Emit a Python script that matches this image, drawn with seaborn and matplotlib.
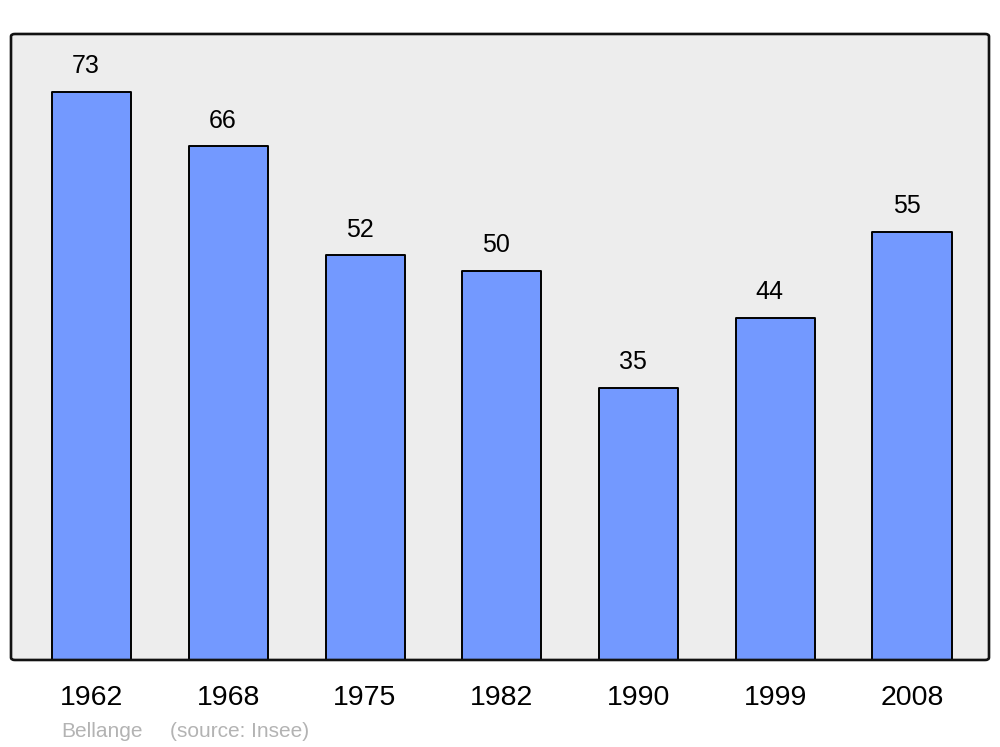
import matplotlib
matplotlib.use("Agg")
import matplotlib.pyplot as plt
import seaborn as sns
import pandas as pd
from matplotlib.patches import FancyBboxPatch

years = ["1962", "1968", "1975", "1982", "1990", "1999", "2008"]
population = [73, 66, 52, 50, 35, 44, 55]
source_name = "Bellange"
source_note = "(source: Insee)"

sns.set_theme(style="white")
plt.rcParams['font.family'] = ['Liberation Sans', 'DejaVu Sans']

df = pd.DataFrame({"year": years, "pop": population})

fig = plt.figure(figsize=(10, 7.47), dpi=100)
ax = fig.add_axes([0.011, 0.1165, 0.978, 0.838])
ax.set_facecolor("#EDEDED")

sns.barplot(data=df, x="year", y="pop", color="#7399FF", width=0.578,
            saturation=1, edgecolor="black", linewidth=1.4, ax=ax)
for p in ax.patches:
    p.set_joinstyle("round")

ax.set_xlim(-0.589, 6.563)
ax.set_ylim(0, 80.46)
ax.set_xlabel("")
ax.set_ylabel("")
ax.set_yticks([])
ax.tick_params(axis="x", length=0, pad=18, labelsize=20.5, labelcolor="black")
for s in ax.spines.values():
    s.set_visible(False)

frame = FancyBboxPatch((0, 0), 1, 1, boxstyle="round,pad=0,rounding_size=0.004",
                       transform=ax.transAxes, facecolor="none", edgecolor="#111111",
                       linewidth=1.9, clip_on=False, zorder=5)
ax.add_patch(frame)

for c in ax.containers:
    anns = ax.bar_label(c, labels=[str(v) for v in population], padding=10,
                        fontsize=18, color="black")
    for a in anns:
        a.xyann = (-4, 10)

fig.text(0.061, 0.0135, source_name, fontsize=15, color="#B3B3B3", ha="left", va="baseline")
fig.text(0.170, 0.0135, source_note, fontsize=15, color="#B3B3B3", ha="left", va="baseline")

fig.savefig("out.png", dpi=100, facecolor="white")
